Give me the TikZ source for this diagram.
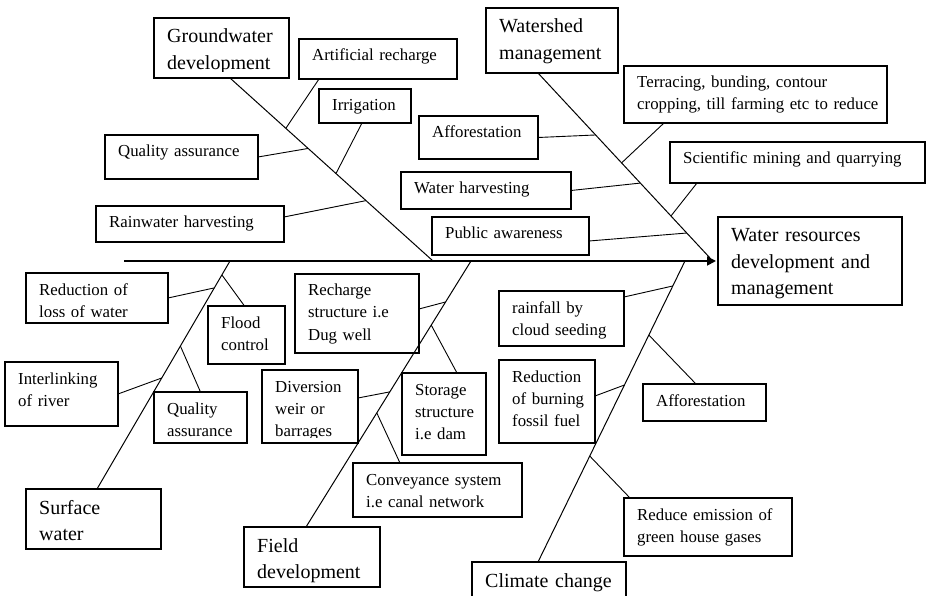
\documentclass[tikz,border=0pt]{standalone}
\usepackage{fontspec}
\setmainfont{Liberation Serif}
\usetikzlibrary{calc,arrows.meta}

\tikzset{
  frame/.style={draw, line width=1.2pt, rectangle, inner sep=0pt, outer sep=0pt},
  boxtext/.style={anchor=base west, inner sep=0pt, align=left, text width=400pt, xshift=13pt},
  smalltext/.style={boxtext, font=\fontsize{16.8}{22}\selectfont, yshift=-22pt},
  bigtext/.style={boxtext, font=\fontsize{20}{26.5}\selectfont, yshift=-25pt},
  bone/.style={line width=1pt},
  rib/.style={line width=0.9pt},
  spine/.style={line width=1.8pt, -{Triangle[length=9pt,width=9pt]}},
}

% #1 text style, #2 name, #3 left, #4 top, #5 right, #6 bottom,
% #7 how far above the bottom edge the text is cut off, #8 text
\newcommand\fishbox[8]{%
  \pgfmathsetmacro\fishw{#5-#3}%
  \pgfmathsetmacro\fishh{#6-#4}%
  \node[frame, minimum width=\fishw pt, minimum height=\fishh pt] (#2)
    at ({(#3+#5)/2},{(#4+#6)/2}) {};
  \begin{scope}
    \clip (#2.north west) rectangle ([yshift=#7pt]#2.south east);
    \node[#1] (#2-text) at (#2.north west) {#8};
  \end{scope}
}

\begin{document}
\begin{tikzpicture}[x=1pt, y=-1pt]
  \path[use as bounding box, fill=white] (0,0) rectangle (927,596);

  % effect
  \fishbox{bigtext}{wr}{718}{217}{902}{305}{0}{Water resources\\development and\\management}

  % groundwater development
  \fishbox{bigtext}{gw}{154}{18}{289}{78}{6}{Groundwater\\development}
  \fishbox{smalltext}{ar}{299}{39}{457}{79}{0}{Artificial recharge}
  \fishbox{smalltext}{irr}{319}{89}{411}{123}{0}{Irrigation}
  \fishbox{smalltext}{qa1}{105}{135}{258}{179}{0}{Quality assurance}
  \fishbox{smalltext}{rwh}{96}{206}{284}{242}{0}{Rainwater harvesting}

  % watershed management
  \fishbox{bigtext}{ws}{486}{8}{618}{73}{0}{Watershed\\management}
  \fishbox{smalltext}{terr}{624}{66}{887}{123}{0}{Terracing, bunding, contour\\cropping, till farming etc to reduce}
  \fishbox{smalltext}{aff1}{419}{116}{538}{159}{0}{Afforestation}
  \fishbox{smalltext}{sci}{670}{142}{925}{183}{0}{Scientific mining and quarrying}
  \fishbox{smalltext}{wh}{401}{172}{571}{209}{0}{Water harvesting}
  \fishbox{smalltext}{pa}{432}{217}{589}{255}{0}{Public awareness}

  % surface water
  \fishbox{bigtext}{sw}{26}{489}{161}{549}{0}{Surface\\water}
  \fishbox{smalltext}{red}{26}{273}{168}{323}{6.5}{Reduction of\\loss of water}
  \fishbox{smalltext}{flood}{208}{306}{285}{364}{0}{Flood\\control}
  \fishbox{smalltext}{inter}{5}{362}{118}{426}{0}{Interlinking\\of river}
  \fishbox{smalltext}{qa2}{154}{392}{247}{443}{6}{Quality\\assurance}

  % field development
  \fishbox{bigtext}{fd}{244}{527}{380}{587}{5}{Field\\development}
  \fishbox{smalltext}{rech}{295}{274}{419}{353}{0}{Recharge\\structure i.e\\Dug well}
  \fishbox{smalltext}{div}{262}{370}{358}{443}{6}{Diversion\\weir or\\barrages}
  \fishbox{smalltext}{stor}{402}{373}{486}{455}{0}{Storage\\structure\\i.e dam}
  \fishbox{smalltext}{conv}{353}{463}{522}{517}{0}{Conveyance system\\i.e canal network}

  % climate change
  \fishbox{bigtext}{cc}{472}{562}{626}{620}{0}{Climate change}
  \fishbox{smalltext}{rain}{499}{291}{624}{346}{0}{rainfall by\\cloud seeding}
  \fishbox{smalltext}{burn}{499}{360}{595}{443}{0}{Reduction\\of burning\\fossil fuel}
  \fishbox{smalltext}{aff2}{643}{384}{766}{421}{0}{Afforestation}
  \fishbox{smalltext}{emis}{624}{498}{792}{556}{0}{Reduce emission of\\green house gases}

  % spine
  \coordinate (tail) at (124,261);
  \draw[spine] (tail) -- ([xshift=-2pt]wr.west);

  % main bones
  \coordinate (gTop) at ([xshift=8.5pt]gw.south);
  \coordinate (gEnd) at (433,261);
  \coordinate (wTop) at ([xshift=-14pt]ws.south);
  \coordinate (wEnd) at (710,258);
  \coordinate (sStart) at (230,261);
  \coordinate (sBot) at ([xshift=3.5pt]sw.north);
  \coordinate (fStart) at (471,261);
  \coordinate (fBot) at ([xshift=-6pt]fd.north);
  \coordinate (cStart) at (685,261);
  \coordinate (cBot) at ([xshift=-11pt]cc.north);

  \draw[bone] (gTop) -- (gEnd);
  \draw[bone] (wTop) -- (wEnd);
  \draw[bone] (sStart) -- (sBot);
  \draw[bone] (fStart) -- (fBot);
  \draw[bone] (cStart) -- (cBot);

  % groundwater ribs
  \draw[rib] ([xshift=20pt]ar.south west) -- ($(gTop)!0.275!(gEnd)$);
  \draw[rib] (qa1.east) -- ($(gTop)!0.385!(gEnd)$);
  \draw[rib] ([xshift=-3pt]irr.south) -- ($(gTop)!0.522!(gEnd)$);
  \draw[rib] ([yshift=7pt]rwh.east) -- ($(gTop)!0.670!(gEnd)$);

  % watershed ribs
  \draw[rib] ([xshift=40pt]terr.south west) -- ($(wTop)!0.486!(wEnd)$);
  \draw[rib] (aff1.east) -- ($(wTop)!0.335!(wEnd)$);
  \draw[rib] (wh.east) -- ($(wTop)!0.595!(wEnd)$);
  \draw[rib] ([xshift=27pt]sci.south west) -- ($(wTop)!0.773!(wEnd)$);
  \draw[rib] ([yshift=-5pt]pa.east) -- ($(wTop)!0.865!(wEnd)$);

  % surface water ribs
  \draw[rib] (red.east) -- ($(sStart)!0.118!(sBot)$);
  \draw[rib] ($(sStart)!0.061!(sBot)$) -- ([xshift=-2pt]flood.north);
  \draw[rib] (inter.east) -- ($(sStart)!0.513!(sBot)$);
  \draw[rib] ($(sStart)!0.373!(sBot)$) -- (qa2.north);

  % field development ribs
  \draw[rib] ([yshift=4.5pt]rech.east) -- ($(fStart)!0.154!(fBot)$);
  \draw[rib] ($(fStart)!0.241!(fBot)$) -- ([xshift=13pt]stor.north);
  \draw[rib] ([yshift=8.5pt]div.east) -- ($(fStart)!0.492!(fBot)$);
  \draw[rib] ($(fStart)!0.571!(fBot)$) -- ([xshift=47pt]conv.north west);

  % climate change ribs
  \draw[rib] ([yshift=-6pt]rain.north east) -- ($(cStart)!0.083!(cBot)$);
  \draw[rib] ([yshift=5.5pt]burn.east) -- ($(cStart)!0.412!(cBot)$);
  \draw[rib] ($(cStart)!0.246!(cBot)$) -- ([xshift=-8.5pt]aff2.north);
  \draw[rib] ($(cStart)!0.648!(cBot)$) -- ([xshift=6pt]emis.north west);
\end{tikzpicture}
\end{document}
